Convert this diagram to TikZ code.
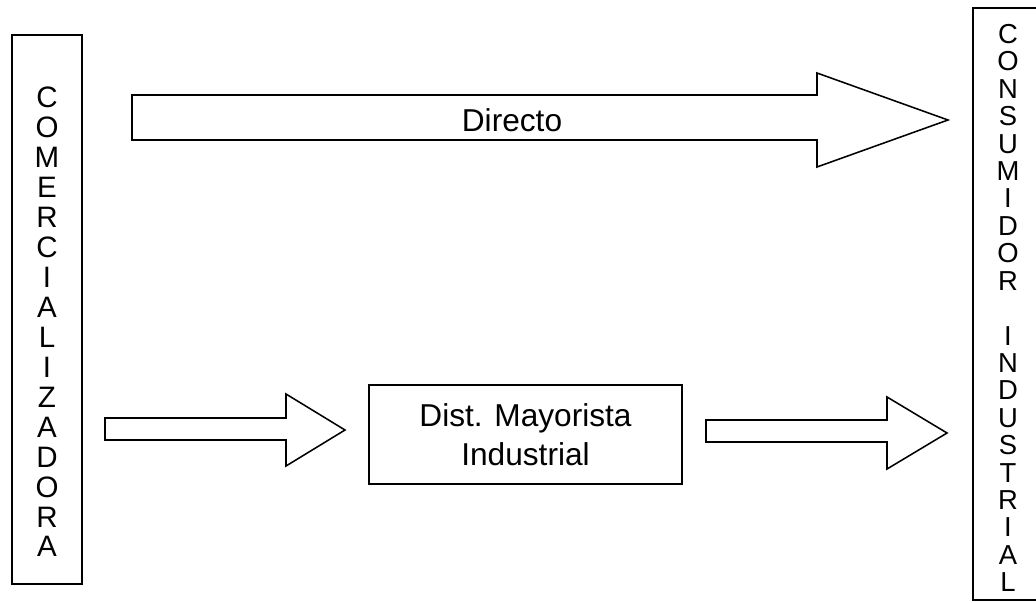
\documentclass[tikz,border=0pt]{standalone}
\usepackage{fontspec}
\setmainfont{Liberation Sans}
\usepackage{tikz}

\begin{document}
\begin{tikzpicture}[x=0.025cm, y=-0.025cm, line width=1.1pt,
    font=\fontsize{22.5}{28}\selectfont,
    box/.style={draw, inner sep=0pt},
    vtext/.style={align=center, inner sep=0pt}]
    \useasboundingbox (0,0) rectangle (1036,603);
    \clip (0,0) rectangle (1036,603);

    \node[box, minimum width=1.75cm, minimum height=13.725cm]  (C)   at (47, 309.5)   {};
    \node[vtext, font=\fontsize{21}{21.3}\selectfont]         (CL)  at (47, 322)     {C\\O\\M\\E\\R\\C\\I\\A\\L\\I\\Z\\A\\D\\O\\R\\A};

    \node[box, minimum width=1.75cm, minimum height=14.8cm]    (CI)  at (1008, 304)   {};
    \node[vtext, font=\fontsize{19.5}{19.5}\selectfont]       (CIL) at (1008, 308)   {C\\O\\N\\S\\U\\M\\I\\D\\O\\R\\~\\I\\N\\D\\U\\S\\T\\R\\I\\A\\L};

    \node[box, align=center, minimum width=7.825cm, minimum height=2.475cm] (DM) at (525.5, 434.5) {Dist. Mayorista\\Industrial};

    \draw (132,95) -- (817,95) -- (817,73) -- (948,120) -- (817,167) -- (817,140) -- (132,140) -- cycle;
    \node[vtext] (D) at (512,120) {Directo};

    \draw (105,418) -- (286,418) -- (286,394) -- (345,430) -- (286,466) -- (286,440) -- (105,440) -- cycle;
    \draw (706,420) -- (887,420) -- (887,397) -- (947,433) -- (887,469) -- (887,442) -- (706,442) -- cycle;
\end{tikzpicture}
\end{document}
